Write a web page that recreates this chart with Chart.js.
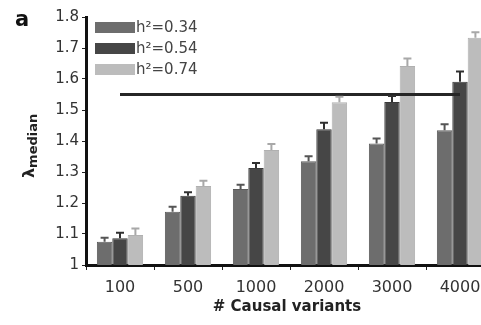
<!DOCTYPE html>
<html>
<head>
<meta charset="utf-8">
<script src="https://cdn.jsdelivr.net/npm/chart.js@4/dist/chart.umd.min.js"></script>
<style>
  html, body { margin: 0; padding: 0; overflow: hidden; background: #fff; }
  #wrap { width: 500px; height: 325px; }
</style>
</head>
<body>
<div id="wrap"><canvas id="lambdaChart" width="500" height="325"></canvas></div>
<script>
// Data
const variants = ['100', '500', '1000', '2000', '3000', '4000'];
const seriesLabels = ['h\u00B2=0.34', 'h\u00B2=0.54', 'h\u00B2=0.74'];
const h034 = [1.075, 1.172, 1.245, 1.335, 1.392, 1.435];
const h054 = [1.086, 1.223, 1.313, 1.438, 1.526, 1.591];
const h074 = [1.097, 1.255, 1.371, 1.525, 1.642, 1.733];
const err034 = [0.013, 0.016, 0.014, 0.016, 0.016, 0.019];
const err054 = [0.018, 0.012, 0.016, 0.021, 0.019, 0.033];
const err074 = [0.021, 0.017, 0.019, 0.018, 0.024, 0.018];
const thresholdLine = [1.55, 1.55, 1.55, 1.55, 1.55, 1.55];
const yTicks = [1, 1.1, 1.2, 1.3, 1.4, 1.5, 1.6, 1.7, 1.8];

const barColors = ['#6d6d6d', '#464646', '#bcbcbc'];
const errColors = ['#555555', '#303030', '#a8a8a8'];
const errors = [err034, err054, err074];

// error bars drawn from the y scale
const errorBars = {
    id: 'errorBars',
    afterDatasetsDraw(chart) {
        const ctx = chart.ctx;
        const y = chart.scales.y;
        ctx.save();
        for (let d = 0; d < 3; d++) {
            const meta = chart.getDatasetMeta(d);
            const vals = chart.data.datasets[d].data;
            ctx.strokeStyle = errColors[d];
            ctx.lineWidth = 2;
            meta.data.forEach(function(bar, i) {
                const top = y.getPixelForValue(vals[i] + errors[d][i]);
                ctx.beginPath();
                ctx.moveTo(bar.x, bar.y);
                ctx.lineTo(bar.x, top);
                ctx.moveTo(bar.x - 4, top);
                ctx.lineTo(bar.x + 4, top);
                ctx.stroke();
            });
        }
        ctx.restore();
    }
};

// legend, titles and panel letter
const extras = {
    id: 'extras',
    afterDraw(chart) {
        const ctx = chart.ctx;
        ctx.save();
        // legend in the plot area
        ctx.font = '15px "DejaVu Sans"';
        ctx.textBaseline = 'middle';
        ctx.textAlign = 'left';
        for (let i = 0; i < 3; i++) {
            const yy = 22 + i * 21;
            ctx.fillStyle = barColors[i];
            ctx.fillRect(95, yy, 40, 11);
            ctx.fillStyle = '#444';
            ctx.fillText(seriesLabels[i], 136, yy + 6);
        }
        // panel letter
        ctx.fillStyle = '#111';
        ctx.textBaseline = 'alphabetic';
        ctx.font = 'bold 21px "DejaVu Sans"';
        ctx.fillText('a', 15, 26);
        // x title
        ctx.textAlign = 'center';
        ctx.font = 'bold 15px "DejaVu Sans"';
        ctx.fillStyle = '#222';
        ctx.fillText('# Causal variants', 287, 311);
        // y title: lambda with subscript
        ctx.translate(34, 178);
        ctx.rotate(-Math.PI / 2);
        ctx.textAlign = 'left';
        ctx.font = 'bold 16px "DejaVu Sans"';
        ctx.fillText('\u03BB', 0, 0);
        const w = ctx.measureText('\u03BB').width;
        ctx.font = 'bold 13px "DejaVu Sans"';
        ctx.fillText('median', w, 3);
        ctx.restore();
    }
};

const ctx = document.getElementById('lambdaChart').getContext('2d');
const lambdaChart = new Chart(ctx, {
    type: 'bar',
    data: {
        labels: variants,
        datasets: [{
            label: seriesLabels[0],
            data: h034,
            backgroundColor: barColors[0],
            borderColor: '#5c5c5c',
            borderWidth: 1,
            order: 1
        }, {
            label: seriesLabels[1],
            data: h054,
            backgroundColor: barColors[1],
            borderColor: '#3a3a3a',
            borderWidth: 1,
            order: 1
        }, {
            label: seriesLabels[2],
            data: h074,
            backgroundColor: barColors[2],
            borderColor: '#b0b0b0',
            borderWidth: 1,
            order: 1
        }, {
            type: 'line',
            label: 'threshold',
            data: thresholdLine,
            borderColor: '#262626',
            borderWidth: 3,
            pointRadius: 0,
            fill: false,
            order: 0
        }]
    },
    options: {
        responsive: false,
        animation: false,
        datasets: {
            bar: { categoryPercentage: 0.68, barPercentage: 1.0 }
        },
        layout: { padding: { top: 17, right: 6, left: 0, bottom: 0 } },
        plugins: {
            legend: { display: false },
            tooltip: { enabled: false }
        },
        scales: {
            x: {
                afterFit: function(s) { s.height = 60; },
                grid: {
                    offset: true,
                    drawOnChartArea: false,
                    tickLength: 5,
                    color: '#222',
                    lineWidth: 1
                },
                border: { display: true, color: '#111', width: 3 },
                ticks: {
                    color: '#333',
                    padding: 8,
                    font: { family: 'DejaVu Sans', size: 16 }
                }
            },
            y: {
                min: 1,
                max: 1.8,
                afterFit: function(s) { s.width = 86; },
                afterBuildTicks: function(s) {
                    s.ticks = yTicks.map(function(v) { return { value: v }; });
                },
                grid: {
                    drawOnChartArea: false,
                    tickLength: 4,
                    color: '#222',
                    lineWidth: 1
                },
                border: { display: true, color: '#111', width: 3 },
                ticks: {
                    color: '#333',
                    padding: 3,
                    font: { family: 'DejaVu Sans', size: 15 },
                    callback: function(v) { return v === 1 ? '1' : v.toFixed(1); }
                }
            }
        }
    },
    plugins: [errorBars, extras]
});
</script>
</body>
</html>
